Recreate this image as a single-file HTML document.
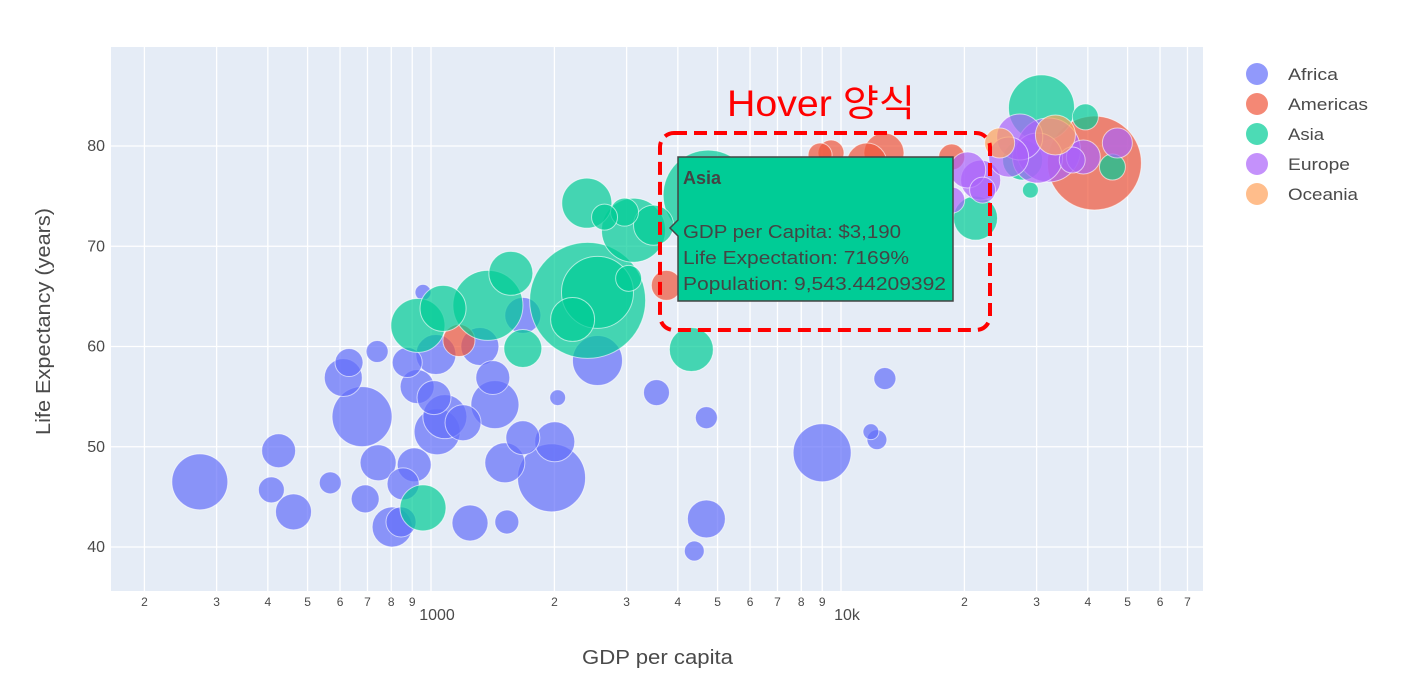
<!DOCTYPE html>
<html><head><meta charset="utf-8">
<style>
html,body{margin:0;padding:0;background:#fff;}
svg{display:block;font-family:"Liberation Sans","Noto Sans CJK KR",sans-serif;}
</style></head>
<body>
<svg id="chart" width="1407" height="699" viewBox="0 0 1407 699"></svg>
<script>
// ---- data ----
const continents = ["Africa","Americas","Asia","Europe","Oceania"];
const colors = ["#636efa","#EF553B","#00cc96","#ab63fa","#FFA15A"];
const africaGdp = [273,425,408,462,568,679,611,631,739,743,804,845,691,855,910,875,1028,925,1017,1081,1035,1197,1415,1432,1316,1245,1531,1514,1675,2004,1968,2037,2547,1675,956,3548,4695,4695,4387,8995,12794,11830,12236];
const africaLife = [46.5,49.6,45.7,43.5,46.4,53.0,56.9,58.4,59.5,48.4,42.0,42.5,44.8,46.3,48.2,58.4,59.2,56.0,54.9,53.0,51.5,52.4,56.9,54.2,60.0,42.4,42.5,48.4,50.9,50.5,46.9,54.9,58.6,63.1,65.4,55.4,52.9,42.8,39.6,49.4,56.8,51.5,50.7];
const africaPop = [348,128,75,144,54,400,160,87,54,144,178,100,87,114,128,100,178,128,128,215,235,144,128,256,160,144,64,178,128,178,514,28,278,144,28,75,54,160,44,374,54,28,44];
const americasGdp = [1170,3750,8892,9455,12730,11560,18620,41500];
const americasLife = [60.6,66.1,79.1,79.3,79.3,78.3,78.9,78.3];
const americasPop = [114,100,64,75,178,178,75,982];
const asiaGdp = [2399,2650,2965,3118,2410,2547,2215,1566,1377,1070,929,1675,956,3034,4315,4742,3490,30830,21290,45920,28970,39450,27730];
const asiaLife = [74.3,72.9,73.4,71.6,64.6,65.4,62.7,67.3,64.1,63.8,62.1,59.8,43.9,66.8,59.7,75.1,72.1,83.8,72.8,77.9,75.6,82.9,78.6];
const asiaPop = [278,75,87,455,1495,576,215,215,544,235,324,160,235,75,215,900,178,484,215,75,28,75,178];
const europeGdp = [20370,21910,18620,27290,32060,39000,47210,25640,22150,30150,36640];
const europeLife = [77.6,76.6,74.6,80.9,79.6,78.9,80.3,78.9,75.6,78.8,78.6];
const europePop = [144,178,75,235,455,128,100,178,75,278,75];
const oceaniaGdp = [33340,24380];
const oceaniaLife = [81.1,80.3];
const oceaniaPop = [178,100];
const yTicks = [40,50,60,70,80];
const xMajor = [1000,10000];
const xMajorLabels = ["1000","10k"];
const xMinor = [200,300,400,500,600,700,800,900,2000,3000,4000,5000,6000,7000,8000,9000,20000,30000,40000,50000,60000,70000];
const xMinorLabels = ["2","3","4","5","6","7","8","9","2","3","4","5","6","7","8","9","2","3","4","5","6","7"];

const NS="http://www.w3.org/2000/svg";
const svg=document.getElementById('chart');
const L=111,R=1203,T=47,B=591;
const TXT='#4a4a4a';
const xs=v=>431+(Math.log10(v)-3)*410;
const ys=v=>547-(v-40)*10.025;
const rs=p=>1.5*Math.sqrt(p);
function el(tag,attrs,parent){const e=document.createElementNS(NS,tag);for(const k in attrs)e.setAttribute(k,attrs[k]);(parent||svg).appendChild(e);return e;}

const bg=el('rect',{x:L,y:T,width:R-L,height:B-T,fill:'#E5ECF6'});



const grid=el('g',{stroke:'#fff','stroke-width':1.3});


yTicks.forEach(t=>{el('line',{x1:L,x2:R,y1:ys(t),y2:ys(t)},grid);});
xMinor.concat(xMajor).forEach(t=>{el('line',{x1:xs(t),x2:xs(t),y1:T,y2:B},grid);});

yTicks.forEach(t=>{
  const tx=el('text',{x:105,y:ys(t)+5,'text-anchor':'end','font-size':16,fill:TXT});
  tx.textContent=t;
  
  
});
xMinor.forEach((t,i)=>{
  const tx=el('text',{x:xs(t),y:606,'text-anchor':'middle','font-size':12,fill:TXT});
  tx.textContent=xMinorLabels[i];
  
  
});
xMajor.forEach((t,i)=>{
  const tx=el('text',{x:xs(t)+6,y:620,'text-anchor':'middle','font-size':16,fill:TXT});
  tx.textContent=xMajorLabels[i];
  
  
});

const series=[[africaGdp,africaLife,africaPop],[americasGdp,americasLife,americasPop],[asiaGdp,asiaLife,asiaPop],[europeGdp,europeLife,europePop],[oceaniaGdp,oceaniaLife,oceaniaPop]];
series.forEach((s,ci)=>{
  const g=el('g',{});
  
  
  const idx=s[0].map((_,i)=>i).sort((a,b)=>s[2][b]-s[2][a]);
  idx.forEach(i=>{
    const c=el('circle',{cx:xs(s[0][i]),cy:ys(s[1][i]),r:rs(s[2][i]),fill:colors[ci],'fill-opacity':0.7,stroke:'rgba(255,255,255,0.6)','stroke-width':1},g);
    
    
  });
});

// legend
const legLens=[50,80,36,62,70];
continents.forEach((n,i)=>{
  const y=74+i*30;
  const c=el('circle',{cx:1257,cy:y,r:11,fill:colors[i],'fill-opacity':0.7});
  
  
  const t=el('text',{x:1288,y:y+6,'font-size':17,fill:TXT,textLength:legLens[i],lengthAdjust:'spacingAndGlyphs'});
  t.textContent=n;
  
  
});

// axis titles
const xt=el('text',{x:582,y:664,'font-size':20,fill:TXT,textLength:151,lengthAdjust:'spacingAndGlyphs'});
xt.textContent='GDP per capita';


const yt=el('text',{x:0,y:0,'font-size':20,fill:TXT,textLength:227,lengthAdjust:'spacingAndGlyphs',transform:'translate(50,435) rotate(-90)'});
yt.textContent='Life Expectancy (years)';



// hover tooltip
const hg=el('g',{});


el('path',{d:'M678,157 L953,157 L953,301 L678,301 L678,236 L670,228 L678,220 Z',fill:'#00cc96',stroke:'#444','stroke-width':1.5},hg);
const hl=[["Asia",184,true,38],["GDP per Capita: $3,190",238,false,218],["Life Expectation: 7169%",264,false,226],["Population: 9,543.44209392",290,false,263]];
hl.forEach(h=>{
  const t=el('text',{x:683,y:h[1],'font-size':18,fill:'#444','font-weight':h[2]?'bold':'normal',textLength:h[3],lengthAdjust:'spacingAndGlyphs'},hg);
  t.textContent=h[0];
  
  
});

// annotation
const box=el('rect',{x:660,y:133,width:330,height:197,rx:14,fill:'none',stroke:'#ff0000','stroke-width':4,'stroke-dasharray':'13 7'});


const at=el('text',{x:727,y:116,'font-size':37,fill:'#ff0000',textLength:188,lengthAdjust:'spacingAndGlyphs'});
at.textContent='Hover 양식';


</script>
</body></html>
